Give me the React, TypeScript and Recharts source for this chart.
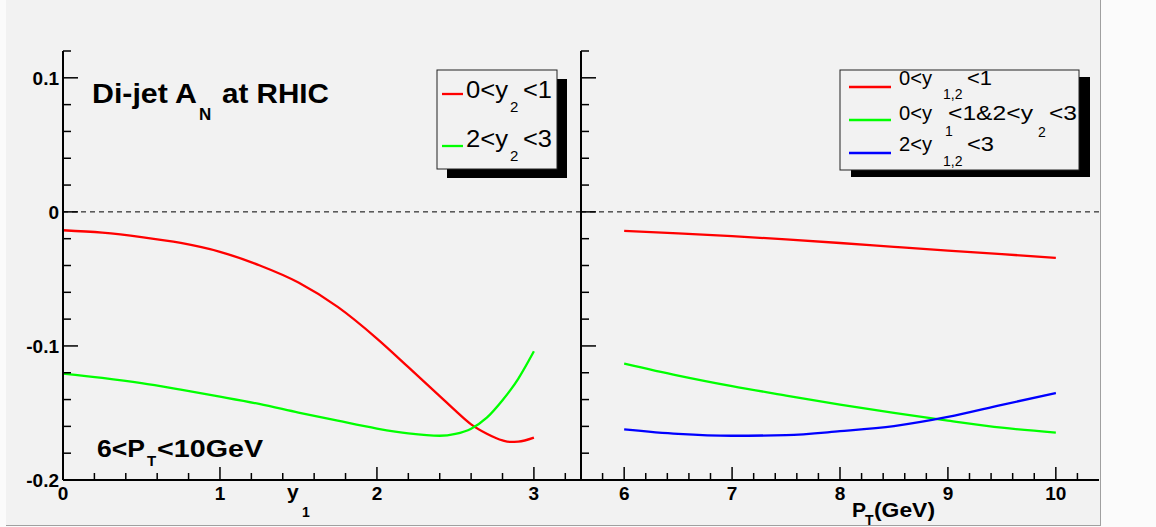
import React from 'react';
import { LineChart, Line, XAxis, YAxis, ReferenceLine } from 'recharts';

// left panel: A_N vs y1
const Y1_VALUES = [0, 0.25, 0.5, 0.75, 1.0, 1.25, 1.5, 1.75, 2.0, 2.2, 2.4, 2.5, 2.6, 2.7, 2.8, 2.85, 2.9, 3.0];
const LEFT_RED = [-0.0137, -0.0155, -0.0188, -0.0232, -0.0298, -0.0398, -0.0527, -0.0709, -0.0945, -0.1158, -0.1374, -0.1483, -0.1585, -0.1655, -0.1705, -0.1716, -0.1714, -0.1684];
const LEFT_GREEN = [-0.1206, -0.1238, -0.1277, -0.1326, -0.1378, -0.1433, -0.1497, -0.1558, -0.1616, -0.1652, -0.1670, -0.1656, -0.1617, -0.1535, -0.1405, -0.1330, -0.1245, -0.1040];

// right panel: A_N vs pT
const PT_VALUES = [6, 6.5, 7, 7.5, 8, 8.5, 9, 9.5, 10];
const RIGHT_RED = [-0.0142, -0.0160, -0.0181, -0.0205, -0.0232, -0.0261, -0.0289, -0.0315, -0.0343];
const RIGHT_GREEN = [-0.1131, -0.1221, -0.1300, -0.1370, -0.1438, -0.1500, -0.1557, -0.1610, -0.1646];
const RIGHT_BLUE = [-0.1622, -0.1656, -0.1670, -0.1665, -0.1636, -0.1598, -0.1530, -0.1440, -0.1351];

const Y_TICKS = [-0.2, -0.18, -0.16, -0.14, -0.12, -0.1, -0.08, -0.06, -0.04, -0.02, 0, 0.02, 0.04, 0.06, 0.08, 0.1, 0.12];
const Y1_TICKS = [0, 0.2, 0.4, 0.6, 0.8, 1, 1.2, 1.4, 1.6, 1.8, 2, 2.2, 2.4, 2.6, 2.8, 3, 3.2];
const PT_TICKS = [5.8, 6, 6.2, 6.4, 6.6, 6.8, 7, 7.2, 7.4, 7.6, 7.8, 8, 8.2, 8.4, 8.6, 8.8, 9, 9.2, 9.4, 9.6, 9.8, 10, 10.2];

const Y_DOMAIN: [number, number] = [-0.2, 0.12];
const Y1_DOMAIN: [number, number] = [0, 3.3];
const PT_DOMAIN: [number, number] = [5.6, 10.4];

const RED = '#ff0000';
const GREEN = '#00ff00';
const BLUE = '#0000ff';
const FONT = '"Liberation Sans", Arial, Helvetica, sans-serif';

const leftData = Y1_VALUES.map((x, i) => ({ x, red: LEFT_RED[i], green: LEFT_GREEN[i] }));
const rightData = PT_VALUES.map((x, i) => ({ x, red: RIGHT_RED[i], green: RIGHT_GREEN[i], blue: RIGHT_BLUE[i] }));

const isMajor = (v: number, per: number) => Math.abs(v * per - Math.round(v * per)) < 1e-6;

const YTick = (props: any) => {
  const { x, y, payload, showLabel } = props;
  const v = payload.value;
  const major = isMajor(v, 10);
  return (
    <g>
      <line x1={x} y1={y} x2={x + (major ? 15 : 8)} y2={y} stroke="#000" strokeWidth={1.5} />
      {major && showLabel && (
        <text x={x - 4} y={y + 7} textAnchor="end" fontFamily={FONT} fontWeight="bold" fontSize={19} fill="#000">
          {String(Math.round(v * 10) / 10)}
        </text>
      )}
    </g>
  );
};

const XTick = (props: any) => {
  const { x, y, payload } = props;
  const v = payload.value;
  const major = isMajor(v, 1);
  return (
    <g>
      <line x1={x} y1={y} x2={x} y2={y - (major ? 13 : 7)} stroke="#000" strokeWidth={1.5} />
      {major && (
        <text x={x} y={y + 20} textAnchor="middle" fontFamily={FONT} fontWeight="bold" fontSize={19} fill="#000">
          {String(Math.round(v))}
        </text>
      )}
    </g>
  );
};

const LegendBox = ({ x, y, w, h, sx, sy }: { x: number; y: number; w: number; h: number; sx: number; sy: number }) => (
  <g>
    <rect x={x + sx} y={y + sy} width={w} height={h} fill="#000" />
    <rect x={x} y={y} width={w} height={h} fill="#f2f2f2" stroke="#222" strokeWidth={1} />
  </g>
);

// stretched text piece, ROOT glyphs run a bit wider than Liberation
const T = ({ x, y, size, w, children }: any) => (
  <tspan x={x} y={y} fontSize={size} textLength={w} lengthAdjust="spacingAndGlyphs">{children}</tspan>
);

export default function App() {
  return (
    <div style={{ position: 'absolute', left: 0, top: 0, width: 1156, height: 527, background: '#fbfbfb', overflow: 'hidden' }}>
      <div style={{ position: 'absolute', left: 6, top: 0, width: 1094, height: 525, background: '#f2f2f2', borderRight: '1px solid #a0a0a0', borderBottom: '1px solid #a0a0a0' }} />

      {/* left panel */}
      <div style={{ position: 'absolute', left: 0, top: 0 }}>
        <LineChart width={582} height={527} data={leftData} margin={{ top: 51, right: 1, bottom: 0, left: 0 }}>
          <XAxis dataKey="x" type="number" domain={Y1_DOMAIN} ticks={Y1_TICKS} interval={0} height={47}
            tickLine={false} tickSize={0} tickMargin={0} axisLine={{ stroke: '#000', strokeWidth: 2 }} tick={(p: any) => <XTick {...p} />} />
          <XAxis xAxisId="top" orientation="top" type="number" domain={Y1_DOMAIN} height={0} tick={false} tickLine={false}
            axisLine={{ stroke: '#111', strokeWidth: 1.2 }} />
          <YAxis type="number" domain={Y_DOMAIN} ticks={Y_TICKS} interval={0} width={63}
            tickLine={false} tickSize={0} tickMargin={0} axisLine={{ stroke: '#000', strokeWidth: 2 }} tick={(p: any) => <YTick {...p} showLabel />} />
          <ReferenceLine y={0} stroke="#000" strokeWidth={1} strokeDasharray="5 4" />
          <Line type="monotone" dataKey="red" stroke={RED} strokeWidth={2.3} dot={false} isAnimationActive={false} />
          <Line type="monotone" dataKey="green" stroke={GREEN} strokeWidth={2.3} dot={false} isAnimationActive={false} />
        </LineChart>
      </div>

      {/* right panel */}
      <div style={{ position: 'absolute', left: 520, top: 0 }}>
        <LineChart width={581} height={527} data={rightData} margin={{ top: 51, right: 2, bottom: 0, left: 0 }}>
          <XAxis dataKey="x" type="number" domain={PT_DOMAIN} ticks={PT_TICKS} interval={0} height={47}
            tickLine={false} tickSize={0} tickMargin={0} axisLine={{ stroke: '#000', strokeWidth: 2 }} tick={(p: any) => <XTick {...p} />} />
          <XAxis xAxisId="top" orientation="top" type="number" domain={PT_DOMAIN} height={0} tick={false} tickLine={false}
            axisLine={{ stroke: '#111', strokeWidth: 1.2 }} />
          <YAxis type="number" domain={Y_DOMAIN} ticks={Y_TICKS} interval={0} width={61}
            tickLine={false} tickSize={0} tickMargin={0} axisLine={{ stroke: '#000', strokeWidth: 2 }} tick={(p: any) => <YTick {...p} />} />
          <YAxis yAxisId="right" orientation="right" type="number" domain={Y_DOMAIN} width={0} tick={false} tickLine={false}
            axisLine={{ stroke: '#111', strokeWidth: 1.2 }} />
          <ReferenceLine y={0} stroke="#000" strokeWidth={1} strokeDasharray="5 4" />
          <Line type="monotone" dataKey="red" stroke={RED} strokeWidth={2.3} dot={false} isAnimationActive={false} />
          <Line type="monotone" dataKey="green" stroke={GREEN} strokeWidth={2.3} dot={false} isAnimationActive={false} />
          <Line type="monotone" dataKey="blue" stroke={BLUE} strokeWidth={2.3} dot={false} isAnimationActive={false} />
        </LineChart>
      </div>

      {/* text and legends */}
      <svg width={1156} height={527} style={{ position: 'absolute', left: 0, top: 0, pointerEvents: 'none' }}>
        <g fontFamily={FONT} fill="#000">
          {/* title */}
          <text fontWeight="bold">
            <T x={92} y={103} size={28} w={105}>Di-jet A</T>
            <tspan x={199} y={120} fontSize={17}>N</tspan>
            <T x={222} y={103} size={28} w={107}>at RHIC</T>
          </text>
          <text fontWeight="bold">
            <T x={97} y={457} size={24} w={48}>6&lt;P</T>
            <tspan x={147} y={465.5} fontSize={15}>T</tspan>
            <T x={157} y={457} size={24} w={106}>&lt;10GeV</T>
          </text>

          {/* axis titles */}
          <text fontWeight="bold">
            <tspan x={287} y={499} fontSize={21}>y</tspan>
            <tspan x={302} y={517} fontSize={14}>1</tspan>
          </text>
          <text fontWeight="bold">
            <tspan x={852} y={516.5} fontSize={21}>P</tspan>
            <tspan x={865} y={525} fontSize={14}>T</tspan>
            <T x={874} y={516.5} size={21} w={61}>(GeV)</T>
          </text>

          {/* left legend */}
          <LegendBox x={437} y={70} w={120} h={99} sx={10} sy={9} />
          <line x1={442} y1={94} x2={463} y2={94} stroke={RED} strokeWidth={2.3} />
          <text>
            <T x={466} y={98} size={23} w={42}>0&lt;y</T>
            <tspan x={510} y={112} fontSize={15}>2</tspan>
            <T x={523} y={98} size={23} w={29}>&lt;1</T>
          </text>
          <line x1={442} y1={146} x2={463} y2={146} stroke={GREEN} strokeWidth={2.3} />
          <text>
            <T x={466} y={147} size={23} w={42}>2&lt;y</T>
            <tspan x={510} y={161} fontSize={15}>2</tspan>
            <T x={523} y={147} size={23} w={29}>&lt;3</T>
          </text>

          {/* right legend */}
          <LegendBox x={840} y={70} w={239} h={100} sx={11} sy={7} />
          <line x1={849} y1={87} x2={891} y2={87} stroke={RED} strokeWidth={2.3} />
          <text>
            <T x={899} y={85} size={20} w={33}>0&lt;y</T>
            <tspan x={943} y={98.5} fontSize={14}>1,2</tspan>
            <T x={967} y={85} size={20} w={25}>&lt;1</T>
          </text>
          <line x1={849} y1={120} x2={891} y2={120} stroke={GREEN} strokeWidth={2.3} />
          <text>
            <T x={899} y={120} size={20} w={33}>0&lt;y</T>
            <tspan x={945} y={136} fontSize={14}>1</tspan>
            <T x={948} y={120} size={20} w={85}>&lt;1&amp;2&lt;y</T>
            <tspan x={1038} y={137} fontSize={14}>2</tspan>
            <T x={1049} y={120} size={20} w={28}>&lt;3</T>
          </text>
          <line x1={849} y1={153} x2={891} y2={153} stroke={BLUE} strokeWidth={2.3} />
          <text>
            <T x={899} y={151} size={20} w={33}>2&lt;y</T>
            <tspan x={943} y={165.5} fontSize={14}>1,2</tspan>
            <T x={967} y={151} size={20} w={27}>&lt;3</T>
          </text>
        </g>
      </svg>
    </div>
  );
}
